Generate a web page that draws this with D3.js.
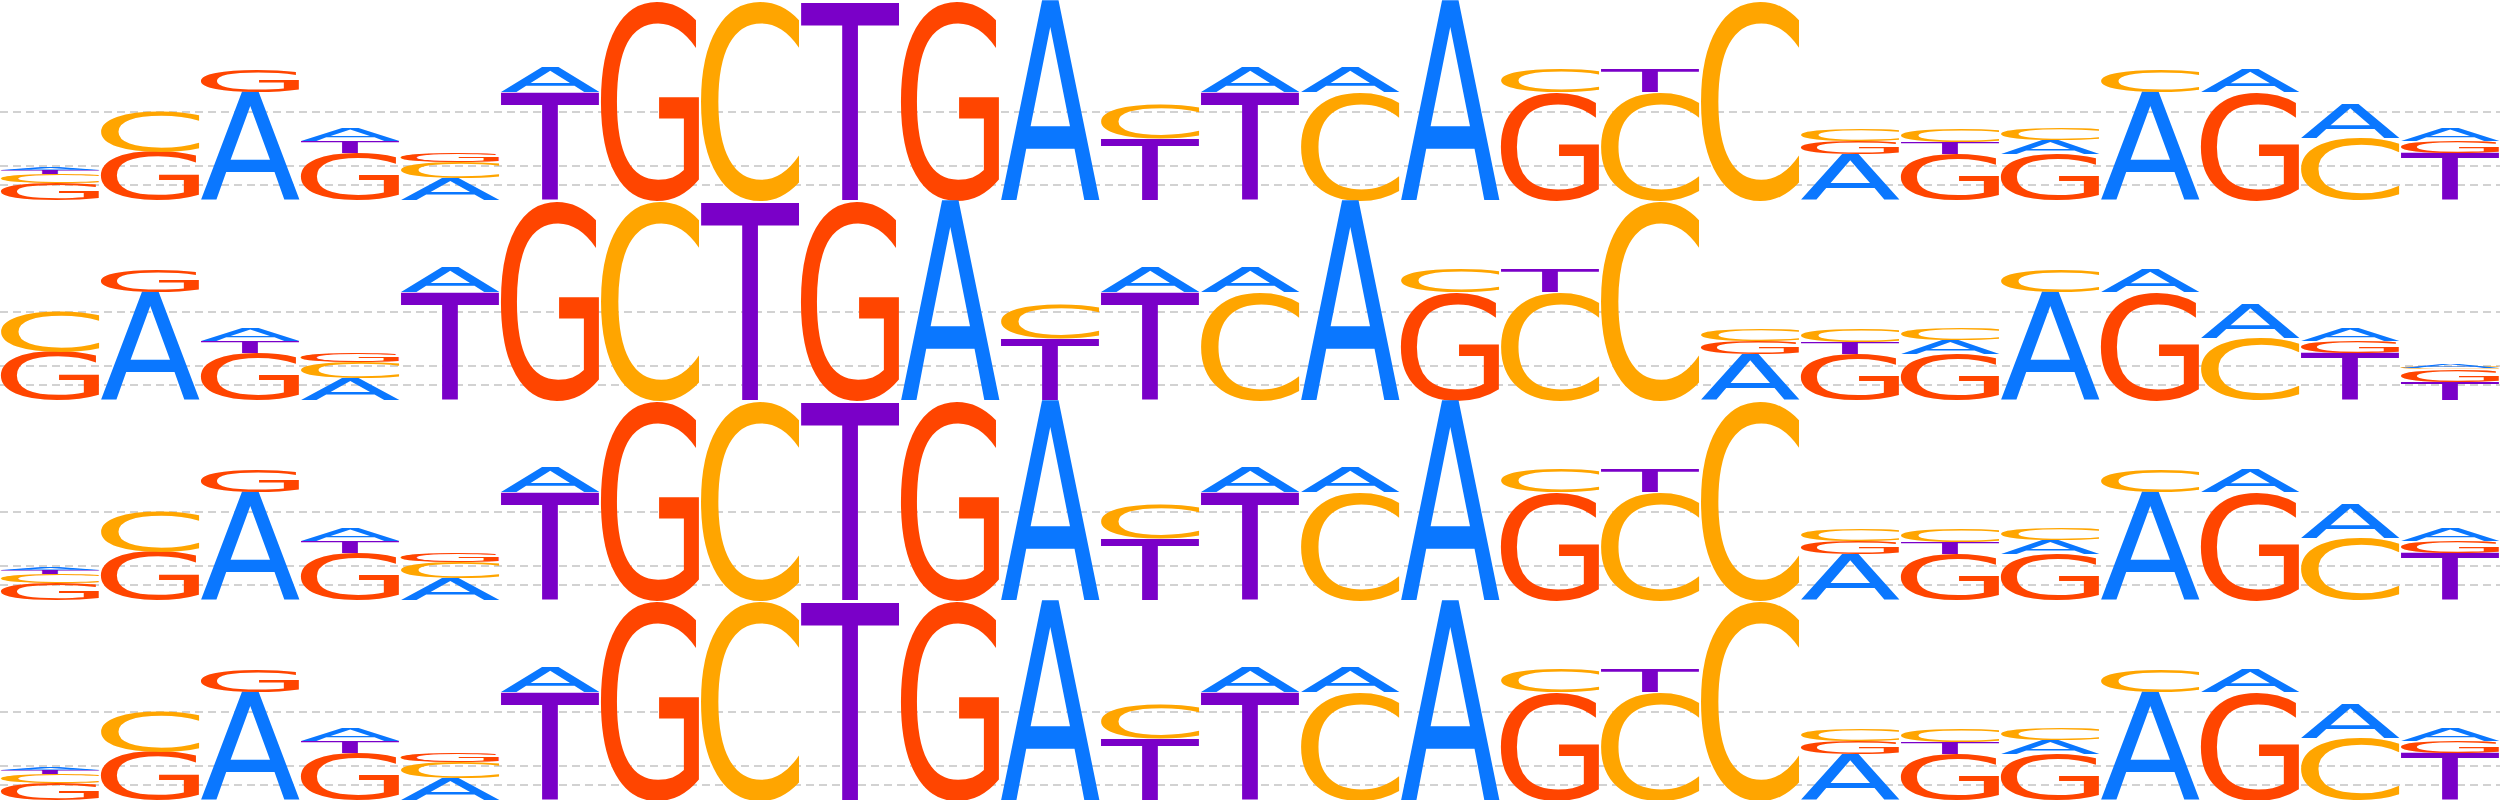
<!DOCTYPE html>
<html>
<head>
<meta charset="utf-8">
<script src="https://cdn.jsdelivr.net/npm/d3@7"></script>
<style>
  html, body { margin: 0; padding: 0; background: #fff; overflow: hidden; }
</style>
</head>
<body>
<div id="chart"></div>
<script>
// motif columns, letters listed bottom -> top, heights in bits
const COLUMNS = [
  [["G", 0.17], ["C", 0.09], ["T", 0.04], ["A", 0.03]],
  [["G", 0.48], ["C", 0.41]],
  [["A", 1.08], ["G", 0.23]],
  [["G", 0.47], ["T", 0.12], ["A", 0.13]],
  [["A", 0.22], ["C", 0.16], ["G", 0.09]],
  [["T", 1.08], ["A", 0.24]],
  [["G", 2.0]],
  [["C", 2.0]],
  [["T", 2.0]],
  [["G", 2.0]],
  [["A", 2.0]],
  [["T", 0.62], ["C", 0.34]],
  [["T", 1.08], ["A", 0.24]],
  [["C", 1.08], ["A", 0.24]],
  [["A", 2.0]],
  [["G", 1.08], ["C", 0.24]],
  [["C", 1.08], ["T", 0.24]],
  [["C", 2.0]],
  [["A", 0.46], ["G", 0.13], ["C", 0.12]],
  [["G", 0.46], ["T", 0.12], ["C", 0.13]],
  [["G", 0.46], ["A", 0.14], ["C", 0.12]],
  [["A", 1.08], ["C", 0.23]],
  [["G", 1.08], ["A", 0.23]],
  [["C", 0.62], ["A", 0.34]],
  [["T", 0.47], ["G", 0.125], ["A", 0.125]],
  [["T", 0.18], ["G", 0.125], ["C", 0.02], ["A", 0.04]]
];

// first motif position shown in each of the 4 logo rows
const ROW_START = [0, 1, 0, 0];
const COLS_PER_ROW = 25;

// dashed reference lines (bits)
const GRID_BITS = [0.15, 0.34, 0.88];

const LETTER_COLOURS = {
  A: "#0a77ff",
  C: "#ffa500",
  G: "#ff4500",
  T: "#7a00c8"
};

const width = 2500;
const height = 800;
const rowHeight = height / ROW_START.length;
const FONT = "DejaVu Sans";
const FONT_SIZE = 100;

// ------- glyph ink metrics (so letters fill their box) -------

const ctx = document.createElement("canvas").getContext("2d");
ctx.font = `${FONT_SIZE}px '${FONT}'`;
const metrics = {};
Object.keys(LETTER_COLOURS).forEach(ch => {
  const m = ctx.measureText(ch);
  metrics[ch] = {
    l: m.actualBoundingBoxLeft,
    r: m.actualBoundingBoxRight,
    a: m.actualBoundingBoxAscent,
    d: m.actualBoundingBoxDescent
  };
});

// ------- MAIN RENDER -------

const svg = d3.select("#chart")
  .append("svg")
  .attr("width", width)
  .attr("height", height);

const x = d3.scaleBand()
  .domain(d3.range(COLS_PER_ROW))
  .range([0, width])
  .padding(0);

const y = d3.scaleLinear()
  .domain([0, 2])
  .range([rowHeight, 0]);

ROW_START.forEach((start, r) => {
  const row = svg.append("g")
    .attr("class", "logo-row")
    .attr("transform", `translate(0,${r * rowHeight})`);

  // grid lines behind the letters
  row.selectAll("line.grid")
    .data(GRID_BITS)
    .enter()
    .append("line")
    .attr("class", "grid")
    .attr("x1", 0)
    .attr("x2", width)
    .attr("y1", d => y(d))
    .attr("y2", d => y(d))
    .attr("stroke", "#c4c4c4")
    .attr("stroke-width", 1.6)
    .attr("stroke-dasharray", "8,5");

  // build stacked letters for this row
  const letters = [];
  d3.range(COLS_PER_ROW).forEach(i => {
    const col = COLUMNS[start + i];
    if (!col) return;
    let cum = 0;
    col.forEach(([ch, h]) => {
      letters.push({ col: i, ch, y0: cum, y1: cum + h });
      cum += h;
    });
  });

  row.selectAll("text.letter")
    .data(letters)
    .enter()
    .append("text")
    .attr("class", "letter")
    .attr("font-family", FONT)
    .attr("font-size", FONT_SIZE)
    .attr("fill", d => LETTER_COLOURS[d.ch])
    .attr("transform", d => {
      const m = metrics[d.ch];
      const bw = x.bandwidth();
      const top = y(d.y1);
      const bh = y(d.y0) - y(d.y1);
      const sx = bw / (m.l + m.r);
      const sy = bh / (m.a + m.d);
      return `translate(${x(d.col)},${top}) scale(${sx},${sy}) translate(${m.l},${m.a})`;
    })
    .text(d => d.ch);
});
</script>
</body>
</html>
